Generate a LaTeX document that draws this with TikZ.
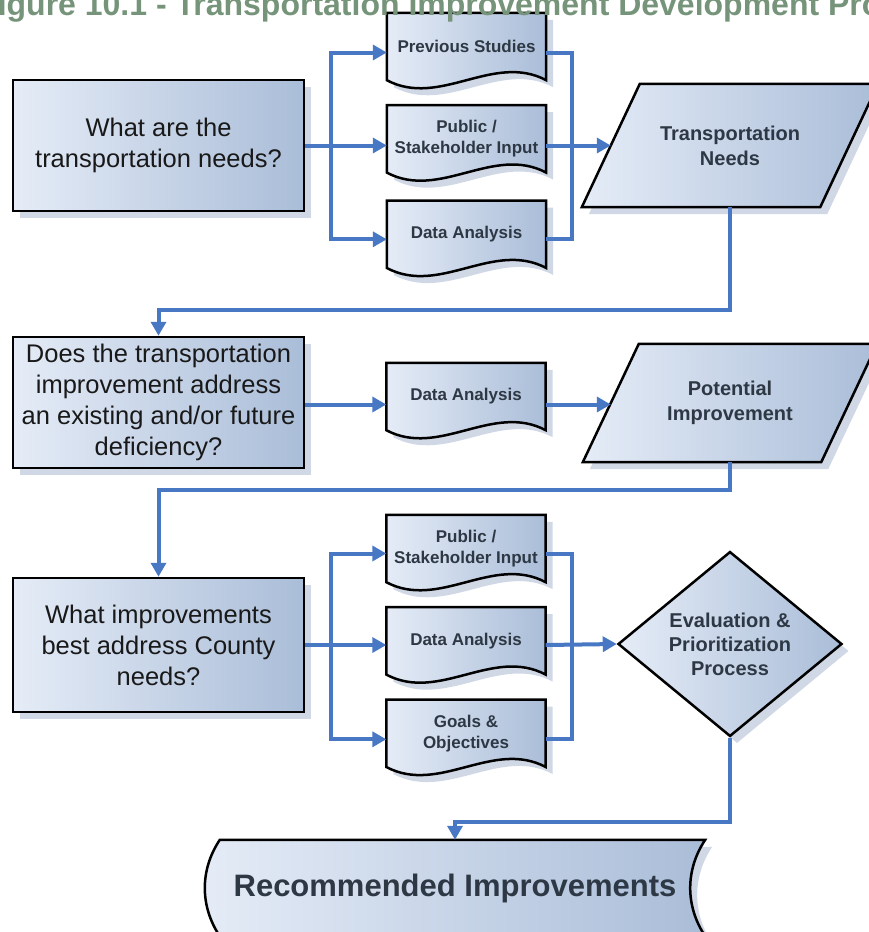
\documentclass[tikz,border=0pt]{standalone}
\usepackage{fontspec}
\setmainfont{Liberation Sans}
\usetikzlibrary{positioning,shapes.geometric,arrows.meta,shadows,backgrounds}

\definecolor{flowblue}{RGB}{72,120,196}
\definecolor{boxlight}{RGB}{229,236,247}
\definecolor{boxdark}{RGB}{170,189,216}
\definecolor{shadowc}{RGB}{208,216,230}
\definecolor{labeltext}{RGB}{45,56,68}
\definecolor{asktext}{RGB}{25,25,25}
\definecolor{titlegreen}{RGB}{118,148,122}

% outlines drawn round the text nodes
\newcommand{\docoutline}[1]{(#1.north west) -- (#1.north east) -- (#1.south east) .. controls +(-53,-28) and +(53,28) .. (#1.south west) -- cycle}
\newcommand{\dataoutline}[2]{([xshift=-#2]#1.south west) -- ([xshift=-#2]#1.south east) -- ([xshift=#2]#1.north east) -- ([xshift=#2]#1.north west) -- cycle}

\begin{document}
\begin{tikzpicture}[x=1pt, y=-1pt]
% STYLES
\tikzset{%
    shaded/.style={%
left color=boxlight,
right color=boxdark,
draw=black,
line width=2.5pt,
drop shadow={shadow xshift=7pt, shadow yshift=-7pt, fill=shadowc, opacity=1}
                  },
    ask/.style={%
shaded,
rectangle,
minimum width=291pt,
minimum height=131pt,
align=center,
text=asktext,
font=\fontsize{25.5}{31}\selectfont
               },
    doclabel/.style={%
rectangle,
minimum width=159pt,
minimum height=67pt,
inner sep=0pt,
align=center,
text=labeltext,
font=\bfseries\fontsize{17}{21}\selectfont
                    },
    datalabel/.style={%
rectangle,
minimum width=238pt,
minimum height=123pt,
inner sep=0pt,
align=center,
text=labeltext,
font=\bfseries\fontsize{20}{25}\selectfont
                     },
    decide/.style={%
shaded,
diamond,
minimum width=224pt,
minimum height=168pt,
inner sep=0pt,
align=center,
text=labeltext,
font=\bfseries\fontsize{20}{24}\selectfont
                  },
    link/.style={draw=flowblue, line width=4pt},
    flow/.style={link, -{Triangle[length=14pt,width=15pt]}}
             }

\useasboundingbox (0,0) rectangle (868,932);

% Title (cut off by the page)
\node[anchor=base west, inner sep=0pt, text=titlegreen,
      font=\bfseries\fontsize{32}{36}\selectfont] (title) at (-22,15)
      {Figure 10.1 - Transportation Improvement Development Process};

% Draw questions
\node[ask] (q1) at (158.5,145.5) {What are the\\transportation needs?};
\node[ask] (q2) at (158.5,402.5) {Does the transportation\\improvement address\\an existing and/or future\\deficiency?};
\node[ask, minimum height=134pt] (q3) at (158.5,645) {What improvements\\best address County\\needs?};

% Draw inputs
\node[doclabel] (prevA) at (466.5,46.5) {Previous Studies};
\node[doclabel, below=25pt of prevA] (pubA) {Public /\\Stakeholder Input};
\node[doclabel, below=28pt of pubA] (dataA) {Data Analysis};
\node[doclabel] (dataB) at (466,396.5) {Data Analysis};
\node[doclabel] (pubC) at (466,548.5) {Public /\\Stakeholder Input};
\node[doclabel, below=25pt of pubC] (dataC) {Data Analysis};
\node[doclabel, below=25pt of dataC] (goalC) {Goals \&\\Objectives};

% Draw results
\node[datalabel] (tnA) at (730,145.5) {Transportation\\Needs};
\node[datalabel, minimum height=118pt] (pB) at (730,403) {Potential\\Improvement};
\node[decide] (evalC) at (730,644) {Evaluation \&\\Prioritization\\Process};
\node[rectangle, minimum width=470pt, minimum height=96pt, inner sep=0pt,
      text=labeltext, font=\bfseries\fontsize{31}{36}\selectfont] (recD) at (455,888)
      {Recommended Improvements};

\begin{scope}[on background layer]
\draw[shaded] \docoutline{prevA};
\draw[shaded] \docoutline{pubA};
\draw[shaded] \docoutline{dataA};
\draw[shaded] \docoutline{dataB};
\draw[shaded] \docoutline{pubC};
\draw[shaded] \docoutline{dataC};
\draw[shaded] \docoutline{goalC};
\draw[shaded] \dataoutline{tnA}{29pt};
\draw[shaded] \dataoutline{pB}{28pt};
\draw[shaded] (recD.north west) -- ([xshift=15pt]recD.north east)
  .. controls +(-20,30) and +(-20,-30) .. ([xshift=15pt]recD.south east)
  -- (recD.south west) .. controls +(-20,-30) and +(-20,30) .. (recD.north west) -- cycle;
\end{scope}

% Draw the links
\coordinate[right=26pt of q1.east] (splitA);
\coordinate (joinA) at ([xshift=26pt]pubA.east |- q1.east);
\draw[link] (q1.east) -- (splitA);
\draw[flow] (splitA) -- (splitA -| pubA.west);
\draw[flow] (splitA) |- ([yshift=-6pt]prevA.west);
\draw[flow] (splitA) |- ([yshift=-5pt]dataA.west);
\draw[link] ([yshift=-6pt]prevA.east) -| (joinA);
\draw[link] ([yshift=-5pt]dataA.east) -| (joinA);
\draw[flow] (joinA -| pubA.east) -- (tnA.west);
\draw[flow] (tnA.south) -- ++(0,103) -| (q2.north);

\draw[flow] ([yshift=-2pt]q2.east) -- ([yshift=-2pt]q2.east -| dataB.west);
\draw[flow] ([yshift=-2pt]q2.east -| dataB.east) -- ([yshift=-2pt]q2.east -| pB.west);
\draw[flow] (pB.south) -- ++(0,28) -| (q3.north);

\coordinate[right=26pt of q3.east] (splitC);
\coordinate (joinC) at ([xshift=26pt]dataC.east |- q3.east);
\draw[link] (q3.east) -- (splitC);
\draw[flow] (splitC) -- (splitC -| dataC.west);
\draw[flow] (splitC) |- ([yshift=-5pt]pubC.west);
\draw[flow] (splitC) |- ([yshift=-6pt]goalC.west);
\draw[link] ([yshift=-5pt]pubC.east) -| (joinC);
\draw[link] ([yshift=-6pt]goalC.east) -| (joinC);
\draw[flow] (joinC -| dataC.east) -- (evalC.west);
\draw[flow] (evalC.south) -- ++(0,84) -| (recD.north);
\end{tikzpicture}
\end{document}
